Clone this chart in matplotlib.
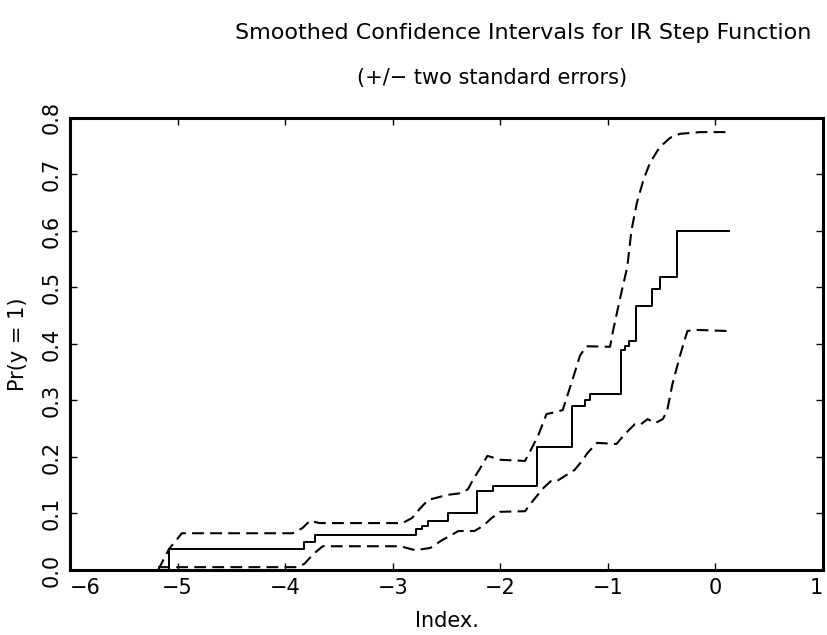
import matplotlib
matplotlib.use("Agg")
import matplotlib.pyplot as plt

# Estimated step function (solid) — breakpoints and level after each break
step_x = [-5.08, -5.08, -3.82, -3.72, -2.78, -2.73, -2.67, -2.49, -2.22, -2.07,
          -1.66, -1.33, -1.21, -1.17, -0.88, -0.84, -0.80, -0.74, -0.59, -0.52,
          -0.36, 0.13]
step_y = [0.000, 0.037, 0.050, 0.062, 0.073, 0.078, 0.087, 0.100, 0.140, 0.149,
          0.218, 0.290, 0.300, 0.312, 0.390, 0.397, 0.405, 0.467, 0.497, 0.518,
          0.600, 0.600]

# Smoothed upper band (+2 s.e.)
upper_x = [-5.18, -5.08, -5.01, -4.96, -3.93, -3.84, -3.77, -3.68, -2.91, -2.82,
           -2.75, -2.67, -2.49, -2.36, -2.30, -2.25, -2.19, -2.12, -2.00, -1.77,
           -1.72, -1.65, -1.57, -1.52, -1.42, -1.33, -1.26, -1.20, -0.98, -0.95,
           -0.89, -0.82, -0.78, -0.73, -0.67, -0.61, -0.52, -0.42, -0.33, -0.14,
           0.15]
upper_y = [0.000, 0.037, 0.053, 0.065, 0.065, 0.074, 0.087, 0.083, 0.083, 0.092,
           0.108, 0.124, 0.133, 0.136, 0.143, 0.161, 0.179, 0.202, 0.195, 0.193,
           0.211, 0.237, 0.276, 0.278, 0.283, 0.336, 0.379, 0.396, 0.395, 0.425,
           0.478, 0.536, 0.602, 0.650, 0.690, 0.720, 0.748, 0.765, 0.772, 0.775,
           0.775]

# Smoothed lower band (-2 s.e.)
lower_x = [-5.18, -3.89, -3.82, -3.74, -3.65, -2.93, -2.87, -2.79, -2.65, -2.54,
           -2.47, -2.39, -2.24, -2.16, -2.08, -2.00, -1.77, -1.72, -1.66, -1.60,
           -1.52, -1.46, -1.37, -1.31, -1.24, -1.19, -1.10, -0.92, -0.84, -0.75,
           -0.70, -0.63, -0.56, -0.49, -0.45, -0.40, -0.33, -0.28, -0.26, -0.19,
           0.11]
lower_y = [0.005, 0.005, 0.011, 0.028, 0.042, 0.042, 0.039, 0.035, 0.039, 0.053,
           0.060, 0.069, 0.069, 0.078, 0.092, 0.103, 0.104, 0.117, 0.131, 0.145,
           0.159, 0.159, 0.170, 0.177, 0.193, 0.207, 0.225, 0.223, 0.241, 0.258,
           0.257, 0.267, 0.260, 0.267, 0.281, 0.329, 0.379, 0.411, 0.423, 0.425,
           0.423]

x_ticks = [-6, -5, -4, -3, -2, -1, 0, 1]
y_ticks = [0.0, 0.1, 0.2, 0.3, 0.4, 0.5, 0.6, 0.7, 0.8]

plt.rcParams["font.family"] = ["DejaVu Sans"]
plt.rcParams["lines.scale_dashes"] = False

fig = plt.figure(figsize=(8.28, 6.35), dpi=100)
ax = fig.add_axes([0.0845, 0.1024, 0.9095, 0.7118])

ax.step(step_x, step_y, where="post", color="black", lw=1.4)
ax.plot(upper_x, upper_y, color="black", lw=1.5, dashes=(8.5, 4.5))
ax.plot(lower_x, lower_y, color="black", lw=1.5, dashes=(8.5, 4.5))

ax.set_xlim(-6, 1)
ax.set_ylim(0, 0.8)
ax.set_xticks(x_ticks)
ax.set_xticklabels([f"{v}".replace("-", "\u2212") for v in x_ticks])
ax.get_xticklabels()[0].set_horizontalalignment("left")
ax.get_xticklabels()[-1].set_horizontalalignment("right")
ax.set_yticks(y_ticks)
ax.set_yticklabels([f"{v:.1f}" for v in y_ticks], rotation=90, va="center")

ax.tick_params(direction="in", length=5, width=1.0, labelsize=15,
               top=True, right=True, pad=6)
for s in ax.spines.values():
    s.set_linewidth(2.2)

ax.set_xlabel("Index.", fontsize=15, labelpad=9)
ax.set_ylabel("Pr(y = 1)", fontsize=15, labelpad=10)

fig.text(0.9805, 0.948, "Smoothed Confidence Intervals for IR Step Function",
         ha="right", va="center", fontsize=16)
fig.text(0.594, 0.877, "(+/\u2212 two standard errors)",
         ha="center", va="center", fontsize=15)

fig.savefig("out.png", dpi=100)
